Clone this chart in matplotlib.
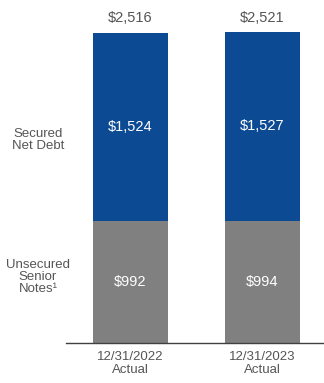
import matplotlib
matplotlib.use("Agg")
import matplotlib.pyplot as plt

plt.rcParams['font.family'] = ['Liberation Sans', 'DejaVu Sans']

periods = ["12/31/2022\nActual", "12/31/2023\nActual"]
unsecured = [992, 994]
secured = [1524, 1527]
totals = [2516, 2521]

blue = "#0C4A93"
grey = "#808080"
txt = "#555555"

fig = plt.figure(figsize=(3.24, 3.83), dpi=100)
W, H = 324, 383
ax = fig.add_axes([66 / W, 40 / H, 258 / W, 343 / H])

x = [0, 1]
w = 0.568
ax.bar(x, unsecured, width=w, color=grey)
ax.bar(x, secured, width=w, bottom=unsecured, color=blue)

for i in x:
    ax.text(i, unsecured[i] / 2, f"${unsecured[i]:,}", ha="center", va="center",
            color="white", fontsize=10.5)
    ax.text(i, unsecured[i] + secured[i] / 2, f"${secured[i]:,}", ha="center",
            va="center", color="white", fontsize=10.5)
    ax.text(i, totals[i] + 120, f"${totals[i]:,}", ha="center", va="center",
            color=txt, fontsize=10.5)

ax.set_xlim(-0.489, 1.466)
ax.set_ylim(0, 2516 * 343 / 310)
ax.set_xticks(x)
ax.set_xticklabels(periods, fontsize=9.5, color=txt, linespacing=1.05)
ax.tick_params(axis="x", length=0, pad=6)
ax.set_yticks([])
for s in ["top", "right", "left"]:
    ax.spines[s].set_visible(False)
ax.spines["bottom"].set_color("#404040")
ax.spines["bottom"].set_linewidth(1)

fig.text(38 / W, 1 - 140 / H, "Secured\nNet Debt", ha="center", va="center",
         fontsize=9.5, color=txt, linespacing=1.05)
fig.text(38 / W, 1 - 277 / H, "Unsecured\nSenior\nNotes¹", ha="center",
         va="center", fontsize=9.5, color=txt, linespacing=1.05)

fig.savefig("out.png", dpi=100)
